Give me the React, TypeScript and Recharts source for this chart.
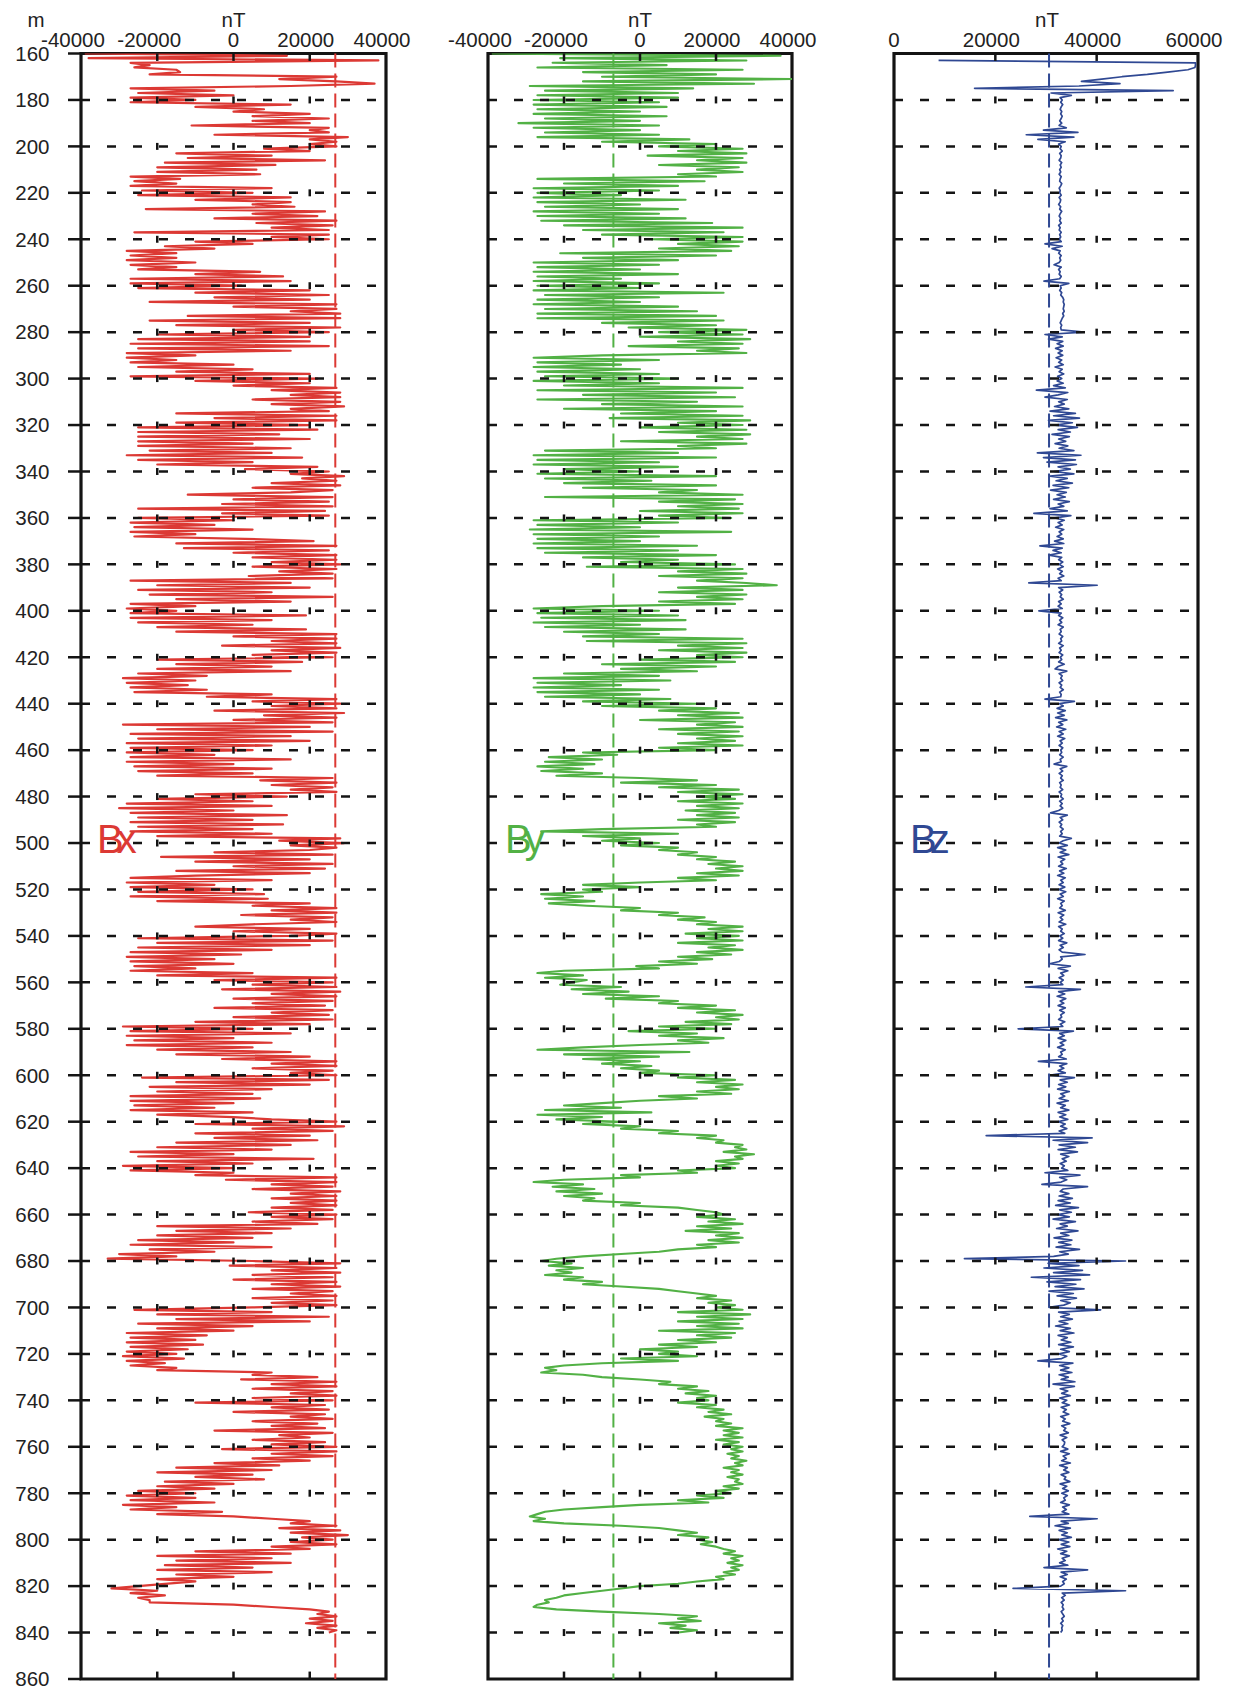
import React from 'react';
import { LineChart, Line, XAxis, YAxis, ReferenceLine, ReferenceArea } from 'recharts';

const FONT = '"Liberation Sans", Arial, Helvetica, sans-serif';
const RED = '#dc3934';
const GREEN = '#52b145';
const BLUE = '#2f4893';
const INK = '#141414';

const DEPTH_TICKS = [160, 180, 200, 220, 240, 260, 280, 300, 320, 340, 360, 380, 400, 420, 440, 460, 480, 500, 520, 540, 560, 580, 600, 620, 640, 660, 680, 700, 720, 740, 760, 780, 800, 820, 840, 860];
const GRID_DEPTHS = [180, 200, 220, 240, 260, 280, 300, 320, 340, 360, 380, 400, 420, 440, 460, 480, 500, 520, 540, 560, 580, 600, 620, 640, 660, 680, 700, 720, 740, 760, 780, 800, 820, 840];
const XY_TICKS = [-40000, -20000, 0, 20000, 40000];
const XY_MINOR = [-20000, 0, 20000];
const Z_TICKS = [0, 20000, 40000, 60000];
const Z_MINOR = [20000, 40000];
const BX_REF = 26700;
const BY_REF = -7000;
const BZ_REF = 30600;

// depth of first sample (m); samples are one per metre
const FIRST_DEPTH = 160;

// Bx in thousands of nT, one value per metre from 160 m to 840 m
const bxK = [
  -39,14,-38,38,-27,-22,-26,-15,-14,-22,
  27,12,27,37,15,-27,-5,-25,0,-27,
  -10,-27,15,-10,8,0,20,5,25,5,
  20,-11,25,20,25,-5,30,20,27,20,
  27,8,20,-15,10,-12,24,-18,11,-20,
  6,-20,7,-27,-14,-26,-15,-27,10,-24,
  5,-25,15,-10,15,5,16,-23,24,5,
  22,-5,27,6,26,10,25,-26,25,10,
  25,-10,5,-18,-5,-28,-15,-27,-15,-28,
  -10,-27,-15,-25,7,-10,13,-27,15,-27,
  2,-25,20,-10,25,-5,20,-22,27,0,
  27,15,28,-12,28,-22,20,-15,28,0,
  25,-20,20,-25,20,-27,25,-25,15,-28,
  -10,-28,-15,-27,0,-25,5,-15,20,-27,
  22,-10,20,0,27,10,28,15,28,5,
  28,10,29,15,25,-15,27,-5,27,-15,
  20,-25,22,-25,12,-25,20,-25,5,-25,
  15,-22,10,-28,18,-25,5,-20,22,3,
  25,15,29,18,27,10,28,5,26,15,
  -12,26,0,25,-3,26,-25,24,-3,25,
  -25,0,-27,-5,-26,5,-27,-10,-26,3,
  21,-15,27,-13,25,0,27,5,27,10,
  28,5,27,12,26,4,26,-27,15,-20,
  20,-25,10,-22,26,-15,15,-27,-10,-28,
  -15,-27,19,-27,10,-25,5,-20,19,-15,
  27,0,27,10,27,-3,28,10,27,5,
  26,-20,18,-15,10,-20,15,-25,-7,-29,
  -10,-28,-12,-27,-7,-26,10,-7,27,5,
  28,10,27,-5,29,8,27,0,26,-29,
  20,-20,26,-27,15,-25,20,-28,10,-27,
  5,-28,-5,-27,15,-28,0,-26,10,-25,
  5,-20,26,7,27,10,26,15,27,-10,
  14,-20,5,-28,10,-30,0,-27,14,-25,
  5,-27,13,-25,5,-27,10,-20,28,12,
  29,15,27,20,-5,26,-19,20,-10,26,
  0,24,-15,20,-10,-27,10,-28,-5,-27,
  5,-25,8,-27,9,-20,20,5,27,10,
  27,2,26,15,27,5,-10,20,0,27,
  15,-25,26,-20,20,-25,10,-27,2,-28,
  -5,-27,0,-26,-10,-27,5,-20,27,-5,
  26,5,27,-3,28,10,27,0,26,5,
  24,-5,26,10,25,0,26,-10,20,-29,
  5,-27,15,-28,0,-26,10,-28,5,-20,
  15,-15,20,-3,27,10,27,5,26,15,
  27,-24,25,-15,20,-22,10,-20,5,-27,
  7,-27,0,-26,-5,-27,5,-20,0,10,
  27,-10,29,5,26,-10,20,-5,22,-15,
  15,-20,10,-27,0,-25,21,-20,5,-29,
  0,-27,0,-10,27,-2,27,10,26,5,
  28,15,27,10,27,15,27,10,26,4,
  27,10,26,5,22,-20,15,-15,10,-20,
  5,-25,0,-27,10,-22,-5,-30,-15,-33,
  5,28,-1,27,10,28,5,26,0,27,
  10,28,5,26,15,27,5,26,10,27,
  5,-26,10,-20,25,-15,20,-25,5,-20,
  0,-28,-7,-27,-10,-28,-8,-27,-12,-28,
  -15,-29,-13,-28,-18,-27,-15,-20,10,5,
  22,2,27,10,27,5,26,15,27,5,
  26,-10,24,10,25,0,24,15,26,5,
  22,10,24,-5,26,12,20,5,24,10,
  27,-3,27,10,26,5,20,-5,12,-15,
  10,-20,5,-10,8,-18,0,-20,-5,-25,
  -10,-28,-10,-27,-5,-29,-15,-27,-3,-20,
  0,10,20,15,27,12,28,15,30,18,
  26,15,27,10,20,-10,15,-20,10,-15,
  15,-18,5,-20,10,-15,0,-20,-10,-18,
  -25,-32,-20,-27,-18,-25,-22,-22,0,10,
  20,25,22,27,20,26,19,27,22,27,
  25,
];

// By in thousands of nT, one value per metre from 160 m to 840 m
const byK = [
  -39,37,-21,28,-23,7,-27,27,-15,20,
  -10,40,-15,30,-29,14,-25,10,-27,10,
  -28,5,-28,7,-27,0,-28,7,-25,0,
  -32,5,-28,0,-25,5,-27,13,-10,20,
  5,27,10,28,2,27,15,28,5,26,
  15,27,10,20,-27,17,-20,10,-28,5,
  -27,-5,-28,12,-27,0,-25,10,-28,5,
  -27,12,-26,19,-20,27,-15,22,-10,27,
  3,27,10,26,5,24,-21,20,-15,10,
  -28,5,-27,0,-28,10,-27,-5,-28,5,
  -27,0,-28,22,-25,5,-27,0,-28,10,
  -25,15,-27,20,-27,22,-10,20,-3,28,
  5,27,0,29,10,27,-3,26,15,28,
  -10,-28,5,-27,-5,-28,0,-27,5,-25,
  10,-28,5,-20,27,-27,20,-15,25,-27,
  15,-10,27,-20,20,-5,27,-8,29,10,
  27,0,28,5,29,15,27,-5,28,10,
  20,-25,10,-28,20,-27,5,-28,10,-20,
  0,-27,20,-25,3,-20,20,-15,15,5,
  27,-25,25,5,27,10,26,0,27,5,
  24,-28,10,-27,0,-29,24,-28,5,-27,
  0,-28,15,-27,10,-25,20,-15,10,-5,
  25,-14,27,10,28,5,27,15,28,36,
  10,27,5,28,15,27,5,25,-10,-28,
  5,-27,10,-26,12,-28,0,-25,12,-20,
  5,-15,27,-14,28,10,27,5,28,15,
  27,0,25,-10,20,-5,15,-20,5,-28,
  8,-27,-5,-28,5,-27,0,-25,8,-15,
  15,-10,20,5,26,10,27,0,25,15,
  27,5,26,10,27,15,25,10,27,5,
  20,-15,-6,-24,-10,-25,-12,-27,-15,-26,
  -10,-22,0,15,-5,20,5,26,10,27,
  15,25,10,27,15,26,12,25,15,26,
  10,25,15,20,-10,-26,10,-15,0,-10,
  5,-5,10,5,15,10,20,15,25,18,
  27,20,27,15,26,10,20,0,-15,0,
  -15,-10,-26,-15,-25,-12,-24,-14,0,-5,
  10,5,17,10,20,15,27,18,27,12,
  26,15,27,10,25,18,27,15,24,10,
  19,5,15,-1,5,-20,-27,-15,-25,-14,
  -18,-21,-5,-18,-3,-15,5,-9,10,5,
  20,10,25,15,27,20,26,12,24,5,
  20,-3,15,5,22,10,18,0,-15,-27,
  13,-20,5,-15,0,-10,3,-5,5,0,
  20,10,25,15,27,20,26,15,24,5,
  15,0,-10,-20,-5,-25,3,-27,-10,-22,
  -5,-15,0,-5,10,5,20,15,22,20,
  27,25,28,22,30,25,27,20,26,20,
  25,10,15,-5,0,-20,-28,-15,-23,-12,
  -22,-10,-20,-12,-15,0,-5,10,15,20,
  22,15,25,18,27,15,24,12,26,20,
  27,18,26,15,20,10,5,-5,-15,-22,
  -26,-18,-24,-15,-22,-18,-25,-15,-20,-10,
  -15,-5,5,10,15,20,15,24,18,25,
  20,27,10,29,15,27,10,26,15,27,
  5,25,15,24,10,20,5,15,0,10,
  5,15,-5,10,-10,-20,-25,-22,-26,-15,
  -10,0,8,5,15,10,18,12,20,15,
  18,10,20,15,22,18,24,17,22,20,
  24,20,27,22,26,22,27,20,26,22,
  27,24,27,23,26,24,28,25,27,22,
  26,24,27,23,26,25,27,22,26,20,
  24,15,22,10,18,0,-10,-20,-25,-27,
  -29,-25,-28,-20,-5,5,10,15,10,18,
  15,19,16,20,22,25,22,27,24,26,
  23,27,24,26,22,25,20,22,15,10,
  0,-5,-10,-15,-20,-22,-25,-24,-27,-28,
  -22,-10,5,15,10,16,5,12,8,15,
  10,
];

// Bz in thousands of nT, one value per metre from 160 m to 840 m (no data above 163 m)
const bzK = [
  null,null,null,8.8,59.5,59.5,59.4,58,54,50,
  45,41,37,44.6,36.5,15.9,55.1,31,35,32.8,
  33.2,32.9,33.3,33,32.8,33.1,32.9,33.2,33,32.7,
  33.1,32.6,34,29.5,36.3,26.1,35.5,28.4,33.8,32.5,
  33,32.8,33.2,32.7,33,32.9,32.6,33.1,32.8,33,
  32.7,32.9,32.6,33,32.8,32.7,33.1,32.9,32.6,32.8,
  32.7,33,32.6,32.9,32.8,32.5,32.9,32.7,33.1,32.8,
  32.6,32.9,32.7,33,32.5,32.8,32.6,33,32.7,32.9,
  32.6,33,29.8,33.2,31.2,32.8,32.5,33,32.7,32.9,
  32.6,31.6,33,32.5,32.8,32.6,33,32.7,29.6,34.5,
  32.8,33,32.7,33.1,32.9,33.3,33.5,33.4,33.6,33.5,
  33.4,33.6,33.3,33.5,33.2,33,32.8,33.1,32.9,33,
  37.5,29.8,33.2,30.5,33.3,32.2,33.4,31.9,33.2,32.4,
  33.3,32,33.1,32.5,33.4,31.8,33.2,32.6,33.5,32.3,
  33.1,32.2,33.4,31.5,33.8,28.1,34.3,32.4,29.8,34.2,
  32.5,33.6,31.7,34.5,30.8,35.8,31.5,36.6,30.5,35.2,
  31.8,36.2,32.4,34.8,31.2,34.6,32.5,33.9,31.8,34.3,
  32.6,35.5,28.3,36.9,29.5,35.8,30.2,36,32.4,34.8,
  31.6,35.5,30.8,34.2,32,35.2,31.4,34.5,30.9,34,
  32.2,33.8,31.5,34.6,32.4,33.5,30.8,34.2,27.6,34.9,
  31.8,33.6,32.4,33.2,31.9,33.5,32.6,33.1,32.2,33.4,
  31.7,33.5,28.8,33.2,31.4,33,30.6,33.1,32.5,33.3,
  32.6,33.4,32.3,33.2,32.7,33.5,32.4,33,26.6,40.1,
  32.5,33.3,32.6,33.1,32.8,33.4,32.5,33,32.4,33.2,
  28.6,33,32.5,33.3,32.7,33.1,32.4,33.4,32.8,33,
  32.6,33.3,32.9,33.1,32.5,33.4,32.7,33,32.6,33.3,
  32.8,33.1,32.5,33.6,32.4,31.8,34.1,32.6,33.2,32.9,
  33.3,32.6,33.1,32.8,33.4,32.7,33,32.9,29.8,35.6,
  32.7,33.4,32.2,33.8,32.3,33.6,31.9,34.1,32.5,33.3,
  32.1,33.9,32.6,33.4,32.3,33.7,32.8,33.2,32.6,33.3,
  32.9,33.1,32.7,33.4,32.8,33,31.6,34.1,32.8,33.3,
  32.6,33.2,32.9,33.4,32.7,33,32.8,33.3,32.6,33.1,
  32.9,33.4,32.7,33.2,32.8,33.3,32.5,30.9,34.2,32.8,
  33.3,32.6,33.1,32.8,33.4,32.9,33.2,32.7,35,33.4,
  32.6,34.2,32.3,33.9,32.8,34.5,32.4,33.7,32.9,33.3,
  32.5,34,32.7,33.5,32.3,33.8,32.9,33.4,32.6,33.7,
  32.5,33.9,32.8,33.4,32.3,33.6,32.9,33.2,32.7,33.8,
  32.4,33.5,32.8,33.3,32.6,33.9,32.5,33.2,32.9,33.6,
  32.7,33.3,32.5,34.1,32.8,33.4,32.6,33.2,37.7,32.9,
  33.2,32.6,30.7,34.8,32.4,34.3,32.9,33.5,32.6,33.4,
  32.8,33.3,26,36.8,32.5,33.7,32.2,33.9,32.8,33.5,
  32.4,33.8,32.7,33.6,32.9,33.1,32.5,33.7,32.8,33.3,
  24.5,35.4,32.7,33.6,32.4,33.9,32.8,33.5,32.3,33.8,
  32.9,33.2,32.5,34,28.5,34.1,32.7,33.5,32.4,33.8,
  30.6,35.6,32.8,34.2,32.5,33.9,32.3,34.6,32.9,33.7,
  32.6,34.4,32.2,33.8,32.9,34.5,32.4,33.9,32.7,34.3,
  32.5,33.8,32.9,34.1,32.6,33.7,18.2,39.1,31.4,38.2,
  32.6,35.8,32.4,36.2,32.9,34.5,33.2,34,32.8,33.6,
  33.1,34.3,29.8,36.7,32.7,34.1,33,29.2,38.2,33.4,
  32.8,34.5,32.6,35.2,32.4,34.8,31.9,36.4,32.7,35,
  32.3,34.6,31.4,35.8,32.8,34.2,32.1,36.3,32.9,34.5,
  31.6,35.1,32.5,34.9,32,36.6,32.7,34.4,31.5,13.9,
  45.7,30.4,36.5,29.6,37.2,31.5,38.6,27.1,36.8,30.2,
  35.9,31.8,37.5,30.6,35.4,32.2,36,32.9,34.8,33.5,
  30.6,40.8,32.5,34.6,32.9,35.2,32.6,34.3,31.9,34.8,
  32.8,35.5,32.4,34.2,33,34.9,32.5,35.4,32.9,34.6,
  32.6,34.1,33.1,28.4,35.3,32.7,34.5,32.9,35.1,32.6,
  34.4,33,35.7,31.4,35.6,32.8,34.3,33.1,34.8,32.7,
  34.1,33.2,34.6,33,34,33.4,34.5,32.9,33.8,33.3,
  34.7,33.1,33.9,33.5,34.4,32.8,34.1,33.2,33.7,33.6,
  33.2,34.3,32.9,34.6,33.4,34,33.1,34.8,32.7,34.2,
  33.5,34.5,33,33.9,33.6,34.7,32.8,34.1,33.3,34.4,
  33.1,34.2,33.5,33.8,32.9,34.6,33.3,34,33.2,34.5,
  26.8,40.1,33,34.4,31.8,34.8,32.6,34.2,33.1,35,
  32.5,34.5,33,34.7,32.3,34.1,32.9,34.6,33.2,33.8,
  32.7,34.3,29.6,38.2,33,34.2,32.8,34,33.3,33.6,
  32.9,23.5,45.7,33.2,33.8,33.1,33.6,33,33.4,33.2,
  33.5,33,33.3,33.6,33.1,33.4,32.9,33.3,33.1,33.2,
  32.9,
];

const ROWS = bxK.map((bx, i) => ({
  depth: FIRST_DEPTH + i,
  bx: bx * 1000,
  by: byK[i] == null ? null : byK[i] * 1000,
  bz: bzK[i] == null ? null : bzK[i] * 1000,
}));

const XTick = (props: any) => {
  const { x, y, payload } = props;
  const v = payload.value;
  const dx = v < 0 ? -8 : v > 0 ? -4 : 0;
  return (
    <text x={x + dx} y={y} textAnchor="middle" fontSize={20.5} fill="#222" fontFamily={FONT}>
      {v}
    </text>
  );
};

type PanelProps = {
  left: number;
  width: number;
  marginLeft: number;
  marginRight: number;
  showDepth: boolean;
  dataKey: string;
  color: string;
  lineWidth: number;
  domain: [number, number];
  ticks: number[];
  minor: number[];
  refX: number;
};

const Panel = ({ left, width, marginLeft, marginRight, showDepth, dataKey, color, lineWidth, domain, ticks, minor, refX }: PanelProps) => (
  <div style={{ position: 'absolute', left, top: 0 }}>
    <LineChart
      width={width}
      height={1693}
      data={ROWS}
      layout="vertical"
      margin={{ top: 13.5, right: marginRight, bottom: 14, left: marginLeft }}
    >
      <XAxis
        type="number"
        orientation="top"
        domain={domain}
        ticks={ticks}
        interval={0}
        allowDataOverflow
        height={40}
        tickSize={0}
        tickMargin={6.5}
        axisLine={false}
        tickLine={false}
        tick={(p: any) => <XTick {...p} />}
      />
      <YAxis
        type="number"
        dataKey="depth"
        domain={[160, 860]}
        ticks={DEPTH_TICKS}
        interval={0}
        allowDataOverflow
        hide={!showDepth}
        width={showDepth ? 81 : 0}
        tickSize={13}
        tickMargin={18.5}
        axisLine={false}
        tickLine={{ stroke: INK, strokeWidth: 2.5 }}
        tick={{ fontSize: 20.5, fill: '#222', fontFamily: FONT }}
      />
      <Line
        dataKey={dataKey}
        stroke={color}
        strokeWidth={lineWidth}
        strokeLinejoin="round"
        dot={false}
        isAnimationActive={false}
        connectNulls={false}
      />
      <ReferenceLine x={refX} stroke={color} strokeWidth={2} strokeDasharray="14 6" />
      {GRID_DEPTHS.map((d) => (
        <ReferenceLine key={'g' + d} y={d} stroke={INK} strokeWidth={2.5} strokeDasharray="9 17" />
      ))}
      {GRID_DEPTHS.flatMap((d) =>
        minor.map((v) => (
          <ReferenceLine
            key={'m' + d + '_' + v}
            segment={[{ x: v, y: d - 1.5 }, { x: v, y: d + 1.5 }]}
            stroke={INK}
            strokeWidth={2.5}
          />
        ))
      )}
      {minor.map((v) => (
        <ReferenceLine key={'t' + v} segment={[{ x: v, y: 160 }, { x: v, y: 163.2 }]} stroke={INK} strokeWidth={2.5} />
      ))}
      {minor.map((v) => (
        <ReferenceLine key={'b' + v} segment={[{ x: v, y: 856.8 }, { x: v, y: 860 }]} stroke={INK} strokeWidth={2.5} />
      ))}
      <ReferenceArea x1={domain[0]} x2={domain[1]} y1={160} y2={860} fill="none" fillOpacity={0} stroke={INK} strokeWidth={3.2} />
    </LineChart>
  </div>
);

export default function App() {
  return (
    <div style={{ position: 'absolute', left: 0, top: 0, width: 1244, height: 1693, background: '#fff', fontFamily: FONT }}>
      <Panel left={0} width={420} marginLeft={0} marginRight={34} showDepth dataKey="bx" color={RED} lineWidth={2.2} domain={[-40000, 40000]} ticks={XY_TICKS} minor={XY_MINOR} refX={BX_REF} />
      <Panel left={436} width={390} marginLeft={52} marginRight={34} showDepth={false} dataKey="by" color={GREEN} lineWidth={2.1} domain={[-40000, 40000]} ticks={XY_TICKS} minor={XY_MINOR} refX={BY_REF} />
      <Panel left={846} width={398} marginLeft={48} marginRight={46} showDepth={false} dataKey="bz" color={BLUE} lineWidth={1.7} domain={[0, 60000]} ticks={Z_TICKS} minor={Z_MINOR} refX={BZ_REF} />
      <svg width={1244} height={1693} style={{ position: 'absolute', left: 0, top: 0, pointerEvents: 'none' }}>
        <text x={36} y={27} textAnchor="middle" fontSize={20.5} fill="#222" fontFamily={FONT}>m</text>
        <text x={233.5} y={27} textAnchor="middle" fontSize={20.5} fill="#222" fontFamily={FONT}>nT</text>
        <text x={640} y={27} textAnchor="middle" fontSize={20.5} fill="#222" fontFamily={FONT}>nT</text>
        <text x={1047} y={27} textAnchor="middle" fontSize={20.5} fill="#222" fontFamily={FONT}>nT</text>
        <text x={97} y={853} fontSize={40} letterSpacing={-7} fill={RED} fontFamily={FONT}>Bx</text>
        <text x={505} y={853} fontSize={40} letterSpacing={-7} fill={GREEN} fontFamily={FONT}>By</text>
        <text x={910} y={853} fontSize={40} letterSpacing={-7} fill={BLUE} fontFamily={FONT}>Bz</text>
      </svg>
    </div>
  );
}
